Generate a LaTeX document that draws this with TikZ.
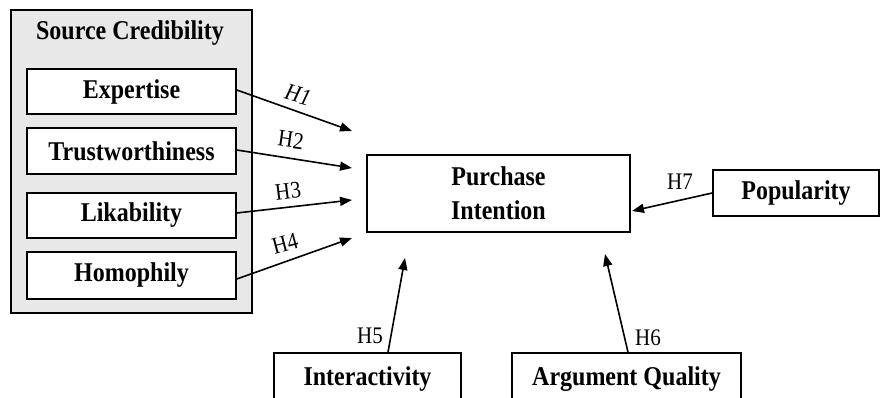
\documentclass[tikz,border=0pt]{standalone}
\usepackage{fontspec}
\setmainfont{Liberation Serif}
\usetikzlibrary{arrows.meta}
% slightly tall lettering
\newcommand\tallword[1]{\scalebox{1}[1.13]{#1}}
\begin{document}
\begin{tikzpicture}[x=1pt,y=-1pt,
  box/.style={draw, line width=1.6pt, fill=white, inner sep=0pt, align=center,
    font=\fontsize{24}{34}\selectfont\bfseries},
  link/.style={line width=1.6pt, -{Triangle[length=12pt,width=9pt]}},
  hyp/.style={inner sep=0pt, font=\fontsize{21}{24}\selectfont}]
\useasboundingbox (0,0) rectangle (883,398);
\clip (0,0) rectangle (883,398);

% source credibility group
\node[draw, line width=1.6pt, fill=black!9, minimum width=241pt, minimum height=303pt,
  inner sep=0pt] (group) at (131.5,161.5) {};
\node[inner sep=0pt, font=\fontsize{24}{26}\selectfont\bfseries] (title) at (130,33) {\tallword{Source Credibility}};
\node[box, minimum width=209pt, minimum height=45pt] (exp) at (131.5,91.5) {\tallword{Expertise}};
\node[box, minimum width=209pt, minimum height=46pt] (tru) at (131.5,151) {\tallword{Trustworthiness}};
\node[box, minimum width=209pt, minimum height=45pt] (lik) at (131.5,215.5) {\tallword{Likability}};
\node[box, minimum width=209pt, minimum height=47pt] (hom) at (131.5,275.5) {\tallword{Homophily}};

% outcome and other antecedents
\node[box, minimum width=263pt, minimum height=77pt] (pi) at (498.5,193.5) {\tallword{Purchase}\\\tallword{Intention}};
\node[box, minimum width=166pt, minimum height=46pt] (pop) at (796,193) {\tallword{Popularity}};
\node[box, minimum width=187pt, minimum height=52pt] (int) at (367.5,379) {\tallword{Interactivity}};
\node[box, minimum width=229pt, minimum height=52pt] (arg) at (626.5,379) {\tallword{Argument Quality}};

% arrow targets
\coordinate (t1) at (352,131);
\coordinate (t2) at (352,168);
\coordinate (t3) at (352,200);
\coordinate (t4) at (352,238);
\coordinate (t5) at (405,258);
\coordinate (t6) at (605,254);
\coordinate (t7) at (632,211);

\draw[link] ([yshift=1.5pt]exp.east) -- (t1);
\draw[link] ([yshift=1pt]tru.east) -- (t2);
\draw[link] ([yshift=2.5pt]lik.east) -- (t3);
\draw[link] ([yshift=-3.5pt]hom.east) -- (t4);
\draw[link] ([xshift=20.5pt]int.north) -- (t5);
\draw[link] ([xshift=1.5pt]arg.north) -- (t6);
\draw[link] (pop.west) -- (t7);

% hypothesis labels
\node[hyp, rotate=-16] (h1) at (298,95) {\tallword{\itshape H1}};
\node[hyp, rotate=-8] (h2) at (291,140) {\tallword{H2}};
\node[hyp, rotate=7] (h3) at (288,191) {\tallword{H3}};
\node[hyp, rotate=15] (h4) at (285,244) {\tallword{H4}};
\node[hyp] (h5) at (370,336) {\tallword{H5}};
\node[hyp] (h6) at (648,338) {\tallword{H6}};
\node[hyp] (h7) at (680,182) {\tallword{H7}};
\end{tikzpicture}
\end{document}
